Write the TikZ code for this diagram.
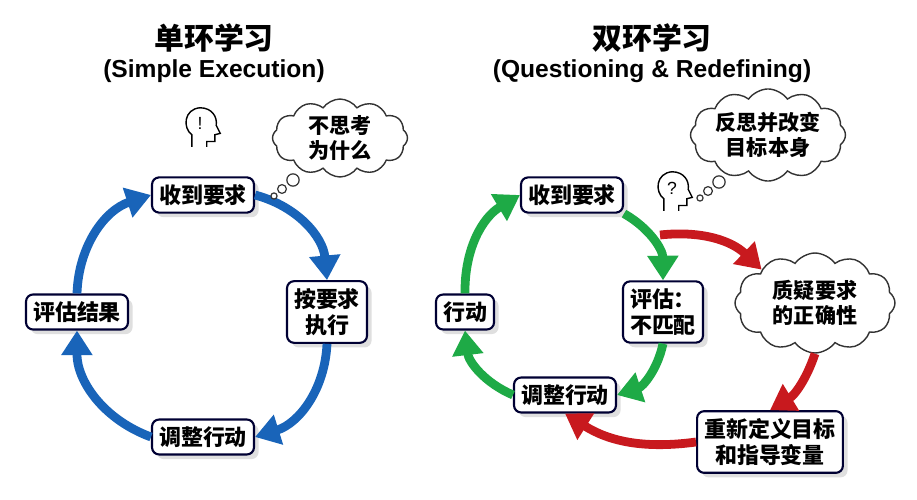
\documentclass[tikz,border=0pt]{standalone}
\usepackage{fontspec}
\setmainfont{Liberation Sans}
\newfontfamily\cjk{Noto Sans CJK SC}
\usetikzlibrary{shapes.symbols,arrows.meta,shadows}

\tikzset{
  box/.style={rectangle,rounded corners=4pt,draw=black!80!blue,line width=1.2pt,fill=white,
    drop shadow={opacity=0.25},align=center,inner sep=4pt,font=\cjk\bfseries\fontsize{12.5}{15}\selectfont},
  thought/.style={cloud,cloud puffs=12,cloud puff arc=110,aspect=2,draw=black!80,line width=0.8pt,
    fill=white,align=center,inner sep=0pt,font=\cjk\bfseries\fontsize{12}{14}\selectfont},
  bubble/.style={circle,draw=black!80,line width=0.7pt,fill=white,inner sep=0pt},
  flow/.style={line width=5pt,-{Triangle[length=14pt,width=17pt]}},
  title/.style={font=\cjk\bfseries\fontsize{17}{20}\selectfont},
  sub/.style={font=\bfseries\fontsize{14}{16}\selectfont}
}
\definecolor{blueflow}{RGB}{25,100,185}
\definecolor{greenflow}{RGB}{30,170,70}
\definecolor{redflow}{RGB}{200,25,30}
\newcommand\headicon[2]{%
  \begin{scope}[shift={#1},x=0.027cm,y=-0.027cm,line width=0.8pt]
    \draw (-6,14) -- (-6,5) .. controls (-13,0) and (-12,-14) .. (0,-15)
      .. controls (9,-15) and (13,-8) .. (12,-2) -- (15,4) -- (11,5) -- (11,10) -- (5,10) -- (5,14);
    \node[font=\fontsize{10}{10}\selectfont] at (0,-3) {#2};
  \end{scope}}

\begin{document}
\begin{tikzpicture}[x=0.02cm,y=-0.02cm]
\useasboundingbox (0,0) rectangle (917,500);

% single loop
\node[title] (T1) at (214,38) {单环学习};
\node[sub] (S1) at (214,71) {(Simple Execution)};
\node[box] (A1) at (203,195) {收到要求};
\node[box] (A2) at (327,312) {按要求\\执行};
\node[box] (A3) at (203,437) {调整行动};
\node[box] (A4) at (77,312) {评估结果};
\draw[flow,blueflow] (A1.east) to[bend left=35] (A2.north);
\draw[flow,blueflow] (A2.south) to[bend left=35] (A3.east);
\draw[flow,blueflow] (A3.west) to[bend left=35] (A4.south);
\draw[flow,blueflow] (A4.north) to[bend left=35] (A1.west);
\headicon{(200,128)}{!}
\node[thought,minimum width=2.7cm,minimum height=1.45cm] (C1) at (340,138) {不思考\\为什么};
\node[bubble,minimum size=7pt] (B11) at (293,180) {};
\node[bubble,minimum size=5pt] (B12) at (282,189) {};
\node[bubble,minimum size=3.5pt] (B13) at (274,196) {};

% double loop
\node[title] (T2) at (652,38) {双环学习};
\node[sub] (S2) at (652,71) {(Questioning \& Redefining)};
\node[box] (D1) at (572,195) {收到要求};
\node[box] (D2) at (663,312) {评估：\\不匹配};
\node[box] (D3) at (565,395) {调整行动};
\node[box] (D4) at (465,312) {行动};
\draw[flow,greenflow] (D1.south east) to[bend left=30] (D2.north);
\draw[flow,greenflow] (D2.south) to[bend left=30] (D3.east);
\draw[flow,greenflow] (D3.west) to[bend left=30] (D4.south);
\draw[flow,greenflow] (D4.north) to[bend left=30] (D1.west);
\node[thought,minimum width=3.2cm,minimum height=2cm] (Q) at (815,303) {质疑要求\\的正确性};
\node[box] (R) at (770,442) {重新定义目标\\和指导变量};
\coordinate (Rs) at (660,235);
\draw[flow,redflow] (Rs) to[bend left=25] (Q.north west);
\draw[flow,redflow] (Q.south) to[bend left=20] (R.north);
\draw[flow,redflow] (R.west) to[bend left=20] (D3.south);
\headicon{(672,192)}{?}
\node[thought,minimum width=3.1cm,minimum height=1.45cm] (C2) at (768,135) {反思并改变\\目标本身};
\node[bubble,minimum size=7pt] (B21) at (719,182) {};
\node[bubble,minimum size=5pt] (B22) at (708,191) {};
\node[bubble,minimum size=3.5pt] (B23) at (700,198) {};
\end{tikzpicture}
\end{document}
